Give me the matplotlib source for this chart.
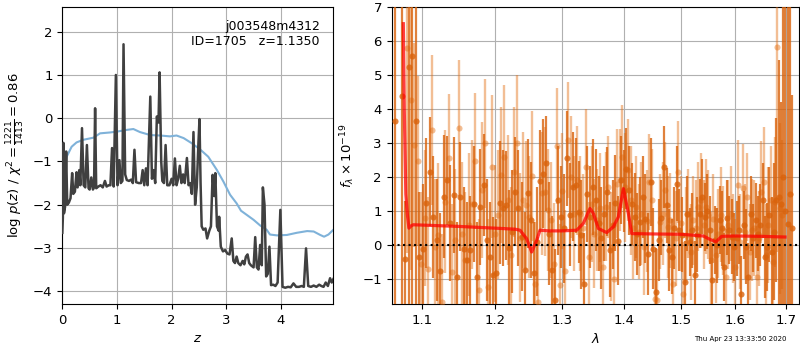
import numpy as np
import matplotlib
matplotlib.use("Agg")
import matplotlib.pyplot as plt
from matplotlib.ticker import FixedLocator, FixedFormatter, NullLocator

nan = float("nan")

# ---------------- redshift probability p(z) ----------------
z_pz = [0.00, 0.01, 0.02, 0.03, 0.05, 0.07, 0.09, 0.12, 0.15, 0.18, 0.20, 0.23, 0.26, 0.28,
        0.31, 0.33, 0.36, 0.39, 0.42, 0.45, 0.48, 0.50, 0.53, 0.56, 0.58, 0.60, 0.62, 0.66,
        0.70, 0.74, 0.78, 0.81, 0.85, 0.88, 0.91, 0.94, 0.98, 1.01, 1.045, 1.07, 1.10, 1.12,
        1.15, 1.18, 1.22, 1.26, 1.29, 1.32, 1.35, 1.40, 1.44, 1.47, 1.50, 1.53, 1.56, 1.61,
        1.64, 1.67, 1.70, 1.73, 1.76, 1.78, 1.81, 1.83, 1.86, 1.89, 1.92, 1.96, 2.00, 2.03,
        2.06, 2.09, 2.12, 2.15, 2.18, 2.21, 2.24, 2.28, 2.31, 2.34, 2.37, 2.40, 2.43, 2.46,
        2.49, 2.51, 2.53, 2.55, 2.58, 2.62, 2.65, 2.69, 2.72, 2.75, 2.78, 2.80, 2.83, 2.86,
        2.87, 2.90, 2.94, 2.98, 3.02, 3.06, 3.10, 3.13, 3.16, 3.19, 3.22, 3.26, 3.30, 3.33,
        3.36, 3.39, 3.42, 3.45, 3.48, 3.50, 3.53, 3.56, 3.59, 3.62, 3.65, 3.67, 3.70, 3.73,
        3.76, 3.79, 3.82, 3.86, 3.90, 3.94, 3.99, 4.03, 4.08, 4.13, 4.18, 4.23, 4.28, 4.33,
        4.38, 4.42, 4.46, 4.50, 4.55, 4.60, 4.65, 4.70, 4.74, 4.78, 4.82, 4.86, 4.90, 4.93,
        4.96]
log_pz = [-2.65, -2.30, -0.57, -2.20, -2.05, -0.77, -2.00, -1.95, -1.85, -1.27, -1.75, -1.70,
          -1.25, -1.60, -1.20, -1.55, -0.23, -1.55, -1.60, -0.62, -1.62, -1.65, -1.37, -1.65,
          -1.60, 0.23, -1.62, -1.58, -1.55, -1.60, -1.45, -1.58, -1.55, -1.55, -0.69, -1.58,
          1.00, -1.55, -0.97, -1.50, -1.45, 1.71, -1.30, -1.43, -1.45, -1.42, -1.50, -0.73,
          -1.48, -1.50, -1.50, -1.20, -1.55, -1.16, -1.55, 0.50, -1.40, -1.20, -1.50, 0.04,
          -0.10, 1.06, -1.00, -1.45, -1.50, -0.62, -1.55, -1.55, -1.40, -1.55, -0.93, -1.55,
          -1.40, -1.10, -1.50, -1.30, -1.50, -0.92, -1.55, -1.50, -1.75, -0.32, -2.00, -1.60,
          -0.60, -0.02, -1.50, -2.50, -2.58, -2.55, -2.78, -2.60, -2.50, -1.31, -1.80, -1.27,
          -2.50, -2.60, -2.28, -2.97, -3.08, -3.05, -3.13, -3.15, -2.78, -3.30, -3.35, -3.20,
          -3.35, -3.40, -3.30, -3.38, -3.20, -3.15, -3.35, -3.40, -3.43, -3.45, -2.75, -3.45,
          -3.50, -2.93, -3.40, -1.60, -2.00, -3.66, -3.60, -2.97, -3.86, -3.85, -3.88, -3.80,
          -2.12, -3.90, -3.92, -3.90, -3.91, -3.82, -3.90, -3.90, -3.88, -3.90, -3.01, -3.88,
          -3.90, -3.87, -3.90, -3.85, -3.88, -3.90, -3.80, -3.88, -3.70, -3.80, -3.72]

# scaled chi-square curve
z_chi = [0.00, 0.01, 0.08, 0.17, 0.26, 0.38, 0.57, 0.69, 0.87, 1.00, 1.18, 1.30, 1.42, 1.61,
         1.79, 1.97, 2.09, 2.22, 2.37, 2.52, 2.67, 2.83, 2.95, 3.07, 3.19, 3.27, 3.38, 3.50,
         3.62, 3.74, 3.80, 3.93, 4.11, 4.29, 4.48, 4.60, 4.72, 4.79, 4.87, 4.96]
chi_scaled = [-1.60, -1.43, -0.89, -0.66, -0.56, -0.50, -0.45, -0.35, -0.33, -0.31, -0.27,
              -0.25, -0.32, -0.39, -0.40, -0.42, -0.40, -0.46, -0.58, -0.72, -0.89, -1.20,
              -1.47, -1.77, -1.97, -2.14, -2.24, -2.35, -2.48, -2.58, -2.69, -2.71, -2.70,
              -2.65, -2.61, -2.62, -2.70, -2.74, -2.69, -2.58]

z_ticks = [0, 1, 2, 3, 4]
pz_ticks = [-4, -3, -2, -1, 0, 1, 2]

# ---------------- 1D spectrum, two grism orientations ----------------
wave_a = [1.0640, 1.0686, 1.0732, 1.0778, 1.0824, 1.0870, 1.0916, 1.0962, 1.1008, 1.1054,
          1.1100, 1.1146, 1.1192, 1.1238, 1.1284, 1.1330, 1.1376, 1.1422, 1.1468, 1.1514,
          1.1560, 1.1606, 1.1652, 1.1698, 1.1744, 1.1790, 1.1836, 1.1882, 1.1928, 1.1974,
          1.2020, 1.2066, 1.2112, 1.2158, 1.2204, 1.2250, 1.2296, 1.2342, 1.2388, 1.2434,
          1.2480, 1.2526, 1.2572, 1.2618, 1.2664, 1.2710, 1.2756, 1.2802, 1.2848, 1.2894,
          1.2940, 1.2986, 1.3032, 1.3078, 1.3124, 1.3170, 1.3216, 1.3262, 1.3308, 1.3354,
          1.3400, 1.3446, 1.3492, 1.3538, 1.3584, 1.3630, 1.3676, 1.3722, 1.3768, 1.3814,
          1.3860, 1.3906, 1.3952, 1.3998, 1.4044, 1.4090, 1.4136, 1.4182, 1.4228, 1.4274,
          1.4320, 1.4366, 1.4412, 1.4458, 1.4504, 1.4550, 1.4596, 1.4642, 1.4688, 1.4734,
          1.4780, 1.4826, 1.4872, 1.4918, 1.4964, 1.5010, 1.5056, 1.5102, 1.5148, 1.5194,
          1.5240, 1.5286, 1.5332, 1.5378, 1.5424, 1.5470, 1.5516, 1.5562, 1.5608, 1.5654,
          1.5700, 1.5746, 1.5792, 1.5838, 1.5884, 1.5930, 1.5976, 1.6022, 1.6068, 1.6114,
          1.6160, 1.6206, 1.6252, 1.6298, 1.6344, 1.6390, 1.6436, 1.6482, 1.6528, 1.6574,
          1.6620, 1.6666, 1.6712, 1.6758, 1.6804, 1.6850, 1.6896, 1.6942, 1.6988, 1.7034,
          1.7080, 1.7126, 1.7172]
flux_a = [3.64, nan, 4.38, -0.40, 5.24, 5.55, 3.64, -0.34, -0.10, 1.24,
          2.15, 0.83, 0.15, -0.75, 1.42, 1.90, 0.64, 1.47, -0.93, 1.42,
          -0.10, -0.44, -0.15, 1.20, -0.93, 1.13, 1.76, 0.15, -0.34, -0.88,
          -0.83, 1.25, 1.08, 1.17, -0.07, 0.40, 1.57, 1.08, 0.25, -0.74,
          1.52, 0.73, -0.83, 0.10, 1.88, 2.10, 2.40, 0.34, -0.74, -1.60,
          1.32, 0.83, 0.50, 2.55, 0.90, 1.71, 1.76, 0.98, 0.30, -1.13,
          1.50, 0.83, 1.71, 1.32, 0.64, 0.20, 0.93, 1.57, -0.13, 0.60,
          1.24, 0.13, 1.91, 1.60, 2.25, 1.61, 1.20, 0.83, 0.34, 0.69,
          1.42, 0.78, -0.25, 1.86, -0.10, -1.37, 0.15, 0.80, 2.30, 1.17,
          -0.15, -0.34, 0.50, 1.81, 0.44, 0.30, -1.08, 0.93, 0.10, 0.44,
          -0.88, 0.30, 0.93, 1.42, 0.83, 1.00, 0.44, -1.03, 0.15, 0.00,
          0.73, 0.50, -0.64, 0.80, 0.44, 0.25, -0.05, 0.20, 0.44, -1.42,
          0.60, -0.05, -0.93, 0.93, 0.20, 0.73, 0.34, 0.60, 1.32, -0.34,
          -0.05, 0.90, -0.20, 0.40, 1.32, 1.42, 1.20, 2.00, 1.00, 0.62,
          1.50, 0.50, nan]
err_a = [9.0, 1.0, 9.0, 1.7, 9.0, 9.0, 9.0, 1.9, 1.9, 1.9,
         1.6, 1.8, 1.8, 1.7, 1.8, 1.3, 1.7, 1.7, 1.6, 1.6,
         1.8, 1.7, 1.6, 1.7, 1.6, 1.7, 1.5, 1.8, 1.6, 1.7,
         1.6, 1.8, 1.7, 1.6, 1.7, 1.8, 1.6, 1.7, 1.6, 1.7,
         1.6, 1.7, 1.5, 1.6, 1.5, 1.6, 1.4, 1.5, 1.6, 1.5,
         1.6, 1.5, 1.6, 1.4, 1.5, 1.6, 1.4, 1.5, 1.6, 1.5,
         1.4, 1.5, 1.4, 1.5, 1.4, 1.5, 1.4, 1.3, 1.4, 1.3,
         1.4, 1.3, 1.3, 1.2, 1.2, 1.3, 1.2, 1.3, 1.2, 1.3,
         1.2, 1.3, 1.2, 1.3, 1.2, 1.3, 1.2, 1.1, 1.2, 1.1,
         1.2, 1.1, 1.2, 1.1, 1.2, 1.1, 1.2, 1.1, 1.0, 1.1,
         1.0, 1.1, 1.0, 1.1, 1.0, 1.1, 1.0, 1.1, 1.0, 1.1,
         1.0, 1.1, 1.0, 1.1, 1.0, 1.1, 1.0, 1.1, 1.0, 1.1,
         1.0, 1.1, 1.0, 1.1, 1.0, 1.1, 1.1, 1.2, 1.1, 1.2,
         1.3, 1.4, 1.6, 2.0, 2.4, 4.0, 3.0, 9.0, 9.0, 9.0,
         9.0, 3.9, 1.0]

wave_b = [1.0663, 1.0709, 1.0755, 1.0801, 1.0847, 1.0893, 1.0939, 1.0985, 1.1031, 1.1077,
          1.1123, 1.1169, 1.1215, 1.1261, 1.1307, 1.1353, 1.1399, 1.1445, 1.1491, 1.1537,
          1.1583, 1.1629, 1.1675, 1.1721, 1.1767, 1.1813, 1.1859, 1.1905, 1.1951, 1.1997,
          1.2043, 1.2089, 1.2135, 1.2181, 1.2227, 1.2273, 1.2319, 1.2365, 1.2411, 1.2457,
          1.2503, 1.2549, 1.2595, 1.2641, 1.2687, 1.2733, 1.2779, 1.2825, 1.2871, 1.2917,
          1.2963, 1.3009, 1.3055, 1.3101, 1.3147, 1.3193, 1.3239, 1.3285, 1.3331, 1.3377,
          1.3423, 1.3469, 1.3515, 1.3561, 1.3607, 1.3653, 1.3699, 1.3745, 1.3791, 1.3837,
          1.3883, 1.3929, 1.3975, 1.4021, 1.4067, 1.4113, 1.4159, 1.4205, 1.4251, 1.4297,
          1.4343, 1.4389, 1.4435, 1.4481, 1.4527, 1.4573, 1.4619, 1.4665, 1.4711, 1.4757,
          1.4803, 1.4849, 1.4895, 1.4941, 1.4987, 1.5033, 1.5079, 1.5125, 1.5171, 1.5217,
          1.5263, 1.5309, 1.5355, 1.5401, 1.5447, 1.5493, 1.5539, 1.5585, 1.5631, 1.5677,
          1.5723, 1.5769, 1.5815, 1.5861, 1.5907, 1.5953, 1.5999, 1.6045, 1.6091, 1.6137,
          1.6183, 1.6229, 1.6275, 1.6321, 1.6367, 1.6413, 1.6459, 1.6505, 1.6551, 1.6597,
          1.6643, 1.6689, 1.6735, 1.6781, 1.6827, 1.6873, 1.6919, 1.6965, 1.7011, 1.7057,
          1.7103, 1.7149]
flux_b = [nan, nan, nan, 5.78, 4.26, 2.94, 2.47, -0.54, 0.80, -0.69,
          3.38, -0.05, 0.30, -1.66, 1.28, 2.55, -0.78, 0.15, 3.43, 0.34,
          -0.44, 0.60, 1.20, 2.47, -1.32, 1.62, 2.99, -1.22, 2.30, 0.34,
          0.90, 2.06, 2.60, 1.32, -0.29, 2.15, 2.99, 0.22, 1.32, 1.17,
          0.83, 2.03, -1.13, -1.66, 1.52, 1.57, 1.03, 0.73, -0.56, 2.92,
          -1.18, 1.60, -0.76, 3.08, 2.00, 0.93, 1.91, 0.93, 0.50, 2.30,
          -0.34, 1.20, 0.34, 0.73, 1.10, -0.64, 1.13, 1.71, -0.05, -0.98,
          1.81, 1.91, 2.60, 1.70, 2.20, 1.32, 0.50, 1.13, 0.40, 0.93,
          -0.05, 0.70, 1.86, 1.32, -1.57, -1.62, 0.69, 0.93, 1.62, 0.54,
          0.73, -1.13, 0.20, 2.15, 0.64, -1.42, 0.30, 0.93, -0.20, 0.73,
          0.50, 1.13, 1.32, 0.60, 1.13, 0.90, -0.44, 0.78, -0.30, 0.34,
          0.90, 0.44, -0.93, 0.60, 0.93, 0.20, -0.64, 1.78, 0.10, 1.67,
          0.40, 1.42, -0.20, 0.44, 0.50, -0.93, 0.20, 1.57, 1.86, -0.30,
          0.60, 1.32, -0.50, 1.27, 5.81, 1.08, 0.90, nan, nan, nan,
          nan, nan]
err_b = [1.0, 1.0, 1.0, 6.0, 5.0, 3.0, 2.5, 2.1, 2.0, 2.1,
         2.2, 2.0, 2.1, 2.0, 2.1, 1.9, 2.0, 2.1, 2.0, 2.1,
         2.0, 2.1, 1.9, 2.0, 2.1, 2.0, 1.9, 2.0, 2.1, 2.0,
         1.9, 2.0, 2.1, 1.9, 2.0, 1.9, 2.0, 1.9, 2.0, 1.9,
         1.8, 1.9, 1.8, 1.9, 1.8, 1.9, 1.8, 1.7, 1.8, 1.7,
         1.8, 1.7, 1.8, 1.7, 1.8, 1.7, 1.6, 1.7, 1.6, 1.7,
         1.6, 1.7, 1.6, 1.5, 1.6, 1.5, 1.6, 1.5, 1.6, 1.5,
         1.6, 1.5, 1.5, 1.6, 1.5, 1.6, 1.5, 1.5, 1.4, 1.5,
         1.4, 1.5, 1.4, 1.5, 1.4, 1.5, 1.4, 1.5, 1.4, 1.5,
         1.4, 1.5, 1.4, 1.5, 1.4, 1.5, 1.4, 1.3, 1.4, 1.3,
         1.4, 1.3, 1.4, 1.3, 1.4, 1.3, 1.4, 1.3, 1.4, 1.3,
         1.4, 1.3, 1.4, 1.3, 1.4, 1.3, 1.4, 1.3, 1.4, 1.3,
         1.4, 1.3, 1.4, 1.5, 1.4, 1.5, 1.4, 1.5, 1.6, 1.5,
         1.7, 1.6, 1.8, 1.9, 6.0, 2.5, 2.2, 1.0, 1.0, 1.0,
         1.0, 1.0]

# best-fit template at z=1.135
wave_model = [1.0753, 1.0765, 1.0785, 1.0805, 1.0825, 1.0850, 1.0880, 1.1000, 1.1500, 1.2000,
              1.2291, 1.2364, 1.2463, 1.2538, 1.2613, 1.2664, 1.2800, 1.3000, 1.3233, 1.3338,
              1.3445, 1.3499, 1.3580, 1.3717, 1.3826, 1.3909, 1.3993, 1.4077, 1.4133, 1.4500,
              1.5000, 1.5397, 1.5521, 1.5633, 1.5740, 1.6000, 1.6500, 1.6979]
flux_model = [6.50, 4.00, 1.50, 0.90, 0.50, 0.56, 0.60, 0.59, 0.55, 0.50,
              0.47, 0.44, 0.19, -0.20, 0.14, 0.44, 0.42, 0.42, 0.44, 0.64,
              1.08, 0.93, 0.49, 0.37, 0.54, 0.83, 1.66, 0.93, 0.34, 0.33,
              0.32, 0.27, 0.17, 0.10, 0.26, 0.27, 0.26, 0.24]

wave_ticks = [1.1, 1.2, 1.3, 1.4, 1.5, 1.6, 1.7]
wave_labels = ["1.1", "1.2", "1.3", "1.4", "1.5", "1.6", "1.7"]
flux_ticks = [-1, 0, 1, 2, 3, 4, 5, 6, 7]

plt.rcParams["font.size"] = 9
fig = plt.figure(figsize=(8, 3.5), dpi=100)

# ---- left panel ----
ax1 = fig.add_axes([0.0779, 0.131, 0.3388, 0.850])
ax1.plot(z_chi, chi_scaled, color="#7fb2d9", lw=1.5, zorder=2)
ax1.plot(z_pz, log_pz, color="#404040", lw=1.8, zorder=3)
ax1.set_xlim(0, 4.96)
ax1.set_ylim(-4.30, 2.58)
ax1.set_xticks(z_ticks)
ax1.set_yticks(pz_ticks)
ax1.tick_params(labelsize=9.5)
ax1.grid(True, color="#b0b0b0", lw=0.8)
ax1.set_axisbelow(True)
ax1.set_xlabel("$z$", fontsize=9.5)
ax1.set_ylabel(r"log $p(z)$ / $\chi^2=\frac{1221}{1413}=0.86$", fontsize=9.5)
ax1.text(0.95, 0.955, "j003548m4312\nID=1705   z=1.1350", transform=ax1.transAxes,
         ha="right", va="top", multialignment="right")

# ---- right panel ----
ax2 = fig.add_axes([0.4896, 0.131, 0.5091, 0.850])
ax2.set_xscale("log")
wb = np.array(wave_b); fb = np.array(flux_b); eb = np.array(err_b)
ok = np.isfinite(fb)
ax2.errorbar(wb[ok], fb[ok], yerr=eb[ok], fmt="o", ms=4.4, color="#e36f14",
             ecolor="#e36f14", elinewidth=1.7, alpha=0.45, mew=0, zorder=3)
wa = np.array(wave_a); fa = np.array(flux_a); ea = np.array(err_a)
ok = np.isfinite(fa)
ax2.errorbar(wa[ok], fa[ok], yerr=ea[ok], fmt="o", ms=4.4, color="#d9620b",
             ecolor="#d9620b", elinewidth=1.6, alpha=0.8, mew=0, zorder=4)
ax2.plot(wave_model, flux_model, color="red", lw=2.3, alpha=0.75, zorder=6)
ax2.axhline(0, color="k", ls=":", lw=1.5, zorder=7)
ax2.set_xlim(1.0604, 1.7265)
ax2.set_ylim(-1.73, 7)
ax2.xaxis.set_major_locator(FixedLocator(wave_ticks))
ax2.xaxis.set_major_formatter(FixedFormatter(wave_labels))
ax2.xaxis.set_minor_locator(NullLocator())
ax2.set_yticks(flux_ticks)
ax2.tick_params(labelsize=9.5)
ax2.grid(True, color="#b0b0b0", lw=0.8)
ax2.set_axisbelow(True)
ax2.set_xlabel(r"$\lambda$", fontsize=9.5)
ax2.set_ylabel(r"$f_\lambda\times10^{-19}$", fontsize=9.5)

fig.text(0.983, 0.031, "Thu Apr 23 13:33:50 2020", ha="right", va="center", fontsize=5)

fig.savefig("out.png", dpi=100)
